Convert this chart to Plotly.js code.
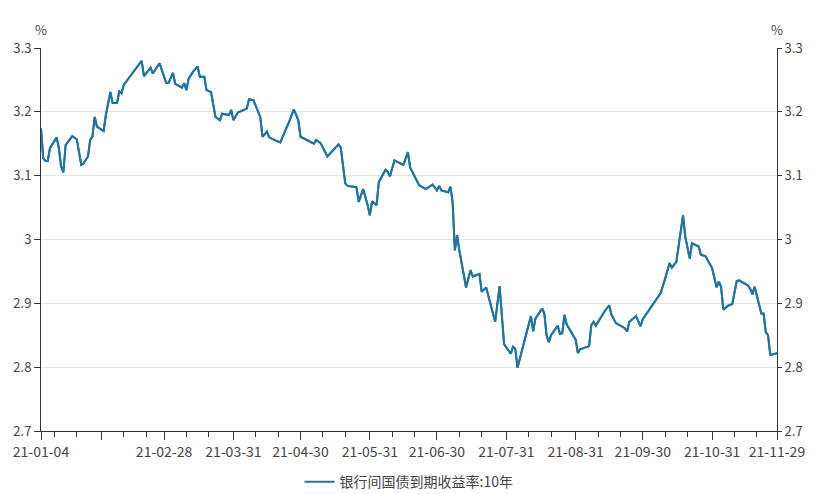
<!DOCTYPE html>
<html>
<head>
<meta charset="utf-8">
<script src="https://cdn.plot.ly/plotly-3.0.1.min.js"></script>
<style>html,body{margin:0;padding:0;background:#fff;}#chart{width:818px;height:494px;}</style>
</head>
<body>
<div id="chart"></div>
<script>
const seriesName = '银行间国债到期收益率:10年';
const dates = [
'2021-01-04','2021-01-05','2021-01-06','2021-01-07','2021-01-08','2021-01-11','2021-01-12','2021-01-13','2021-01-14','2021-01-15',
'2021-01-18','2021-01-19','2021-01-20','2021-01-22','2021-01-23','2021-01-25','2021-01-26','2021-01-27','2021-01-28','2021-01-29',
'2021-02-01','2021-02-02','2021-02-04','2021-02-05','2021-02-07','2021-02-08','2021-02-09','2021-02-10','2021-02-18','2021-02-19',
'2021-02-22','2021-02-23','2021-02-26',
'2021-03-01','2021-03-02','2021-03-04','2021-03-05','2021-03-08','2021-03-09','2021-03-10','2021-03-11','2021-03-13','2021-03-15',
'2021-03-16','2021-03-18','2021-03-19','2021-03-21','2021-03-23','2021-03-25','2021-03-26','2021-03-29','2021-03-30','2021-03-31',
'2021-04-02','2021-04-06','2021-04-07','2021-04-09','2021-04-12','2021-04-13','2021-04-15','2021-04-16','2021-04-19','2021-04-21',
'2021-04-23','2021-04-25','2021-04-27','2021-04-29','2021-04-30',
'2021-05-06','2021-05-07','2021-05-09','2021-05-12','2021-05-17','2021-05-18','2021-05-20','2021-05-21','2021-05-25','2021-05-26',
'2021-05-28','2021-05-30','2021-05-31',
'2021-06-01','2021-06-03','2021-06-04','2021-06-07','2021-06-08','2021-06-09','2021-06-11','2021-06-13','2021-06-15','2021-06-17',
'2021-06-18','2021-06-22','2021-06-25','2021-06-28','2021-06-30',
'2021-07-01','2021-07-02','2021-07-05','2021-07-06','2021-07-07','2021-07-08','2021-07-09','2021-07-10','2021-07-13','2021-07-15',
'2021-07-16','2021-07-19','2021-07-20','2021-07-22','2021-07-26','2021-07-28','2021-07-30',
'2021-08-02','2021-08-03','2021-08-04','2021-08-05','2021-08-11','2021-08-12','2021-08-13','2021-08-16','2021-08-17','2021-08-18',
'2021-08-19','2021-08-20','2021-08-23','2021-08-24','2021-08-25','2021-08-26','2021-08-27','2021-08-31',
'2021-09-01','2021-09-02','2021-09-06','2021-09-07','2021-09-08','2021-09-09','2021-09-10','2021-09-13','2021-09-15','2021-09-16',
'2021-09-18','2021-09-22','2021-09-23','2021-09-24','2021-09-27','2021-09-29','2021-09-30',
'2021-10-08','2021-10-10','2021-10-12','2021-10-13','2021-10-15','2021-10-18','2021-10-19','2021-10-21','2021-10-22','2021-10-25',
'2021-10-26','2021-10-28','2021-10-29','2021-10-31',
'2021-11-02','2021-11-03','2021-11-04','2021-11-05','2021-11-07','2021-11-09','2021-11-11','2021-11-12','2021-11-14','2021-11-16',
'2021-11-17','2021-11-18','2021-11-19','2021-11-20','2021-11-22','2021-11-23','2021-11-24','2021-11-25','2021-11-26','2021-11-29'
];
const yields = [
3.174,3.127,3.123,3.123,3.143,3.160,3.143,3.114,3.105,3.148,
3.162,3.159,3.157,3.117,3.119,3.130,3.156,3.161,3.192,3.177,
3.170,3.195,3.231,3.214,3.214,3.232,3.229,3.242,3.280,3.256,
3.269,3.260,3.276,
3.245,3.245,3.261,3.244,3.238,3.245,3.234,3.252,3.263,3.271,
3.255,3.255,3.234,3.231,3.192,3.187,3.197,3.195,3.203,3.187,
3.199,3.205,3.220,3.218,3.192,3.161,3.169,3.160,3.155,3.152,
3.169,3.185,3.204,3.187,3.161,
3.150,3.156,3.151,3.130,3.149,3.144,3.088,3.084,3.082,3.059,
3.079,3.054,3.038,
3.060,3.054,3.090,3.109,3.106,3.099,3.124,3.121,3.117,3.137,
3.113,3.085,3.079,3.086,3.077,
3.084,3.077,3.074,3.083,3.059,2.983,3.007,2.983,2.925,2.952,
2.942,2.946,2.918,2.925,2.871,2.927,2.836,
2.821,2.832,2.829,2.799,2.880,2.856,2.876,2.892,2.884,2.850,
2.839,2.850,2.865,2.852,2.853,2.882,2.867,2.843,
2.822,2.828,2.833,2.866,2.871,2.865,2.871,2.888,2.897,2.882,
2.869,2.861,2.856,2.871,2.880,2.864,2.875,
2.916,2.939,2.963,2.956,2.965,3.038,3.004,2.970,2.994,2.989,
2.976,2.974,2.968,2.955,
2.925,2.934,2.926,2.890,2.896,2.899,2.935,2.936,2.932,2.928,
2.923,2.914,2.926,2.913,2.884,2.884,2.855,2.850,2.819,2.822
];
const xTickVals = ['2021-01-04','2021-01-31','2021-02-28','2021-03-31','2021-04-30','2021-05-31','2021-06-30','2021-07-31','2021-08-31','2021-09-30','2021-10-31','2021-11-29'];
const xTickText = ['21-01-04','','21-02-28','21-03-31','21-04-30','21-05-31','21-06-30','21-07-31','21-08-31','21-09-30','21-10-31','21-11-29'];
const xMinorVals = ['2021-01-10','2021-01-20','2021-02-10','2021-02-20','2021-03-10','2021-03-20','2021-04-10','2021-04-20','2021-05-10','2021-05-20','2021-06-10','2021-06-20','2021-07-10','2021-07-20','2021-08-10','2021-08-20','2021-09-10','2021-09-20','2021-10-10','2021-10-20','2021-11-10','2021-11-20'];
const yTickVals = [2.7,2.8,2.9,3.0,3.1,3.2,3.3];
const yTickText = ['2.7','2.8','2.9','3','3.1','3.2','3.3'];
const yRange = [2.7,3.3];
const xRange = ['2021-01-04','2021-11-29'];

const FONT = '"Noto Sans CJK SC","Noto Sans",sans-serif';
const lineColor = '#1f74a0';
const axisColor = '#333333';
const textColor = '#444444';

const traces = [
  {x: dates, y: yields, type: 'scatter', mode: 'lines', name: seriesName,
   line: {color: lineColor, width: 2}, yaxis: 'y', hoverinfo: 'skip'},
  {x: dates, y: yields, type: 'scatter', mode: 'lines', name: seriesName,
   line: {color: lineColor, width: 2}, yaxis: 'y2', showlegend: false, hoverinfo: 'skip'}
];

const layout = {
  width: 818, height: 494,
  margin: {l: 41, r: 41, t: 48, b: 63, pad: 0, autoexpand: false},
  paper_bgcolor: '#ffffff', plot_bgcolor: '#ffffff',
  font: {family: FONT, size: 13, color: textColor},
  showlegend: true,
  legend: {orientation: 'h', x: 0.5, xanchor: 'center', xref: 'container', y: 0.024, yanchor: 'middle', yref: 'container',
           font: {family: FONT, size: 14, color: textColor}, bgcolor: 'rgba(0,0,0,0)'},
  xaxis: {type: 'date', range: xRange, tickmode: 'array', tickvals: xTickVals, ticktext: xTickText,
          ticks: 'outside', ticklen: 8, tickcolor: axisColor, tickwidth: 1,
          showline: true, linecolor: axisColor, linewidth: 1, showgrid: false, zeroline: false,
          tickfont: {family: FONT, size: 14, color: textColor},
          minor: {tickmode: 'array', tickvals: xMinorVals, ticks: 'outside', ticklen: 5, tickcolor: axisColor, tickwidth: 1, showgrid: false}},
  yaxis: {range: yRange, tickmode: 'array', tickvals: yTickVals, ticktext: yTickText,
          ticks: 'outside', ticklen: 6, tickcolor: axisColor, showline: true, linecolor: axisColor, linewidth: 1,
          showgrid: true, gridcolor: '#e3e3e3', gridwidth: 1, zeroline: false,
          tickfont: {family: FONT, size: 13, color: textColor}},
  yaxis2: {range: yRange, overlaying: 'y', side: 'right', tickmode: 'array', tickvals: yTickVals, ticktext: yTickText,
          ticks: 'outside', ticklen: 4, tickcolor: axisColor, showline: true, linecolor: axisColor, linewidth: 1,
          showgrid: false, zeroline: false,
          tickfont: {family: FONT, size: 13, color: textColor}},
  annotations: [
    {text: '%', xref: 'paper', yref: 'paper', x: 0, y: 1, xanchor: 'center', yanchor: 'bottom', yshift: 7, showarrow: false,
     font: {family: FONT, size: 13, color: textColor}},
    {text: '%', xref: 'paper', yref: 'paper', x: 1, y: 1, xanchor: 'center', yanchor: 'bottom', yshift: 7, showarrow: false,
     font: {family: FONT, size: 13, color: textColor}}
  ]
};

Plotly.newPlot('chart', traces, layout, {displayModeBar: false, staticPlot: true});
</script>
</body>
</html>
